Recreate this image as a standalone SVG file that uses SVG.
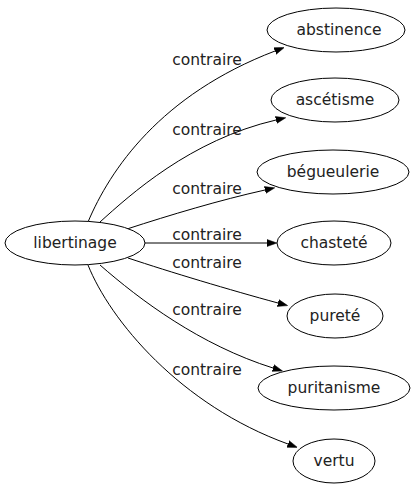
<svg xmlns="http://www.w3.org/2000/svg" width="416" height="491" viewBox="0 0 416 491">
<style>
  .node ellipse { fill: #ffffff; stroke: #000000; stroke-width: 1; }
  .node text { font-family: "DejaVu Sans", sans-serif; font-size: 15.5px; fill: #222222; text-anchor: middle; }
  .edges path { fill: none; stroke: #000000; stroke-width: 1; marker-end: url(#arrow); }
  .edges text { font-family: "DejaVu Sans", sans-serif; font-size: 15.5px; fill: #222222; text-anchor: middle; }
</style>
<defs>
  <marker id="arrow" markerUnits="userSpaceOnUse" markerWidth="10" markerHeight="8" refX="0" refY="3.5" orient="auto" viewBox="0 0 10 7">
    <path d="M0,0 L10,3.5 L0,7 z" fill="#000000" stroke="#000000" stroke-width="0.5"/>
  </marker>
</defs>
<rect width="416" height="491" fill="#ffffff"/>
<g id="connectors" class="edges">
  <path d="M88,222 C110,170 160,95 275,51"/>
  <text x="207" y="65">contraire</text>
  <path d="M100,222 C130,195 190,140 276,120"/>
  <text x="207" y="135">contraire</text>
  <path d="M127,229 C170,215 220,200 265,190"/>
  <text x="207" y="194">contraire</text>
  <path d="M145,243 L267,243"/>
  <text x="207" y="240">contraire</text>
  <path d="M128,258 C170,272 230,290 278,303"/>
  <text x="207" y="268">contraire</text>
  <path d="M100,265 C140,300 200,345 273,368"/>
  <text x="207" y="315">contraire</text>
  <path d="M88,265 C110,320 180,405 288,444"/>
  <text x="207" y="375">contraire</text>
</g>
<g id="libertinage" class="node">
  <ellipse cx="75" cy="243" rx="70" ry="22"/>
  <text x="75" y="248">libertinage</text>
</g>
<g id="abstinence" class="node">
  <ellipse cx="336" cy="30" rx="69" ry="22"/>
  <text x="339" y="35">abstinence</text>
</g>
<g id="ascetisme" class="node">
  <ellipse cx="335" cy="100" rx="64" ry="22"/>
  <text x="335" y="105">ascétisme</text>
</g>
<g id="begueulerie" class="node">
  <ellipse cx="333" cy="172" rx="76" ry="22"/>
  <text x="333" y="177">bégueulerie</text>
</g>
<g id="chastete" class="node">
  <ellipse cx="334" cy="243" rx="57" ry="22"/>
  <text x="334" y="248">chasteté</text>
</g>
<g id="purete" class="node">
  <ellipse cx="335" cy="316" rx="48" ry="22"/>
  <text x="335" y="321">pureté</text>
</g>
<g id="puritanisme" class="node">
  <ellipse cx="334" cy="388" rx="76" ry="22"/>
  <text x="334" y="393">puritanisme</text>
</g>
<g id="vertu" class="node">
  <ellipse cx="334" cy="461" rx="41" ry="22"/>
  <text x="334" y="466">vertu</text>
</g>
</svg>
